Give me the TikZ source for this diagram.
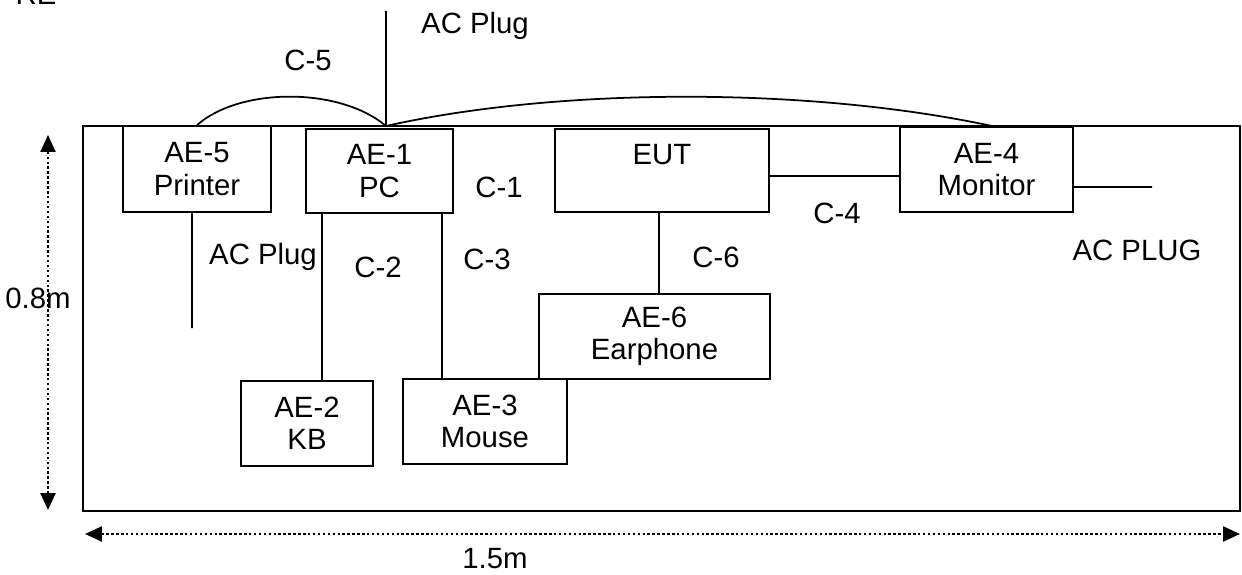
\documentclass[tikz,border=0pt]{standalone}
\usepackage{fontspec}
\setmainfont{Liberation Sans}
\usetikzlibrary{arrows.meta}

\begin{document}
\begin{tikzpicture}[
        x=0.02cm, y=-0.02cm,
        unit/.style={
            rectangle,
            draw=black,
            line width=1pt,
            inner sep=0pt,
            align=center,
            font=\fontsize{16.7}{18.5}\selectfont
        },
        lbl/.style={
            inner sep=0pt,
            font=\fontsize{16.7}{18.5}\selectfont
        },
        cable/.style={line width=1pt},
        dim/.style={
            {Triangle[length=0.34cm,width=0.3cm]}-{Triangle[length=0.34cm,width=0.3cm]},
            dash pattern=on 1.4pt off 1.4pt,
            line width=1.4pt
        }
    ]

    \useasboundingbox (0,0) rectangle (1242,575);

    \node (table) [draw, line width=1pt, inner sep=0pt, minimum width=23.14cm, minimum height=7.7cm] at (661.5,318.5) {};

    \node (printer) [unit, minimum width=2.96cm, minimum height=1.72cm] at (197,169) {AE-5\\Printer};
    \node (pc) [unit, minimum width=2.94cm, minimum height=1.68cm] at (379.5,171) {AE-1\\PC};
    \node (eut) [unit, minimum width=4.28cm, minimum height=1.66cm] at (662,170.5) {EUT\\\phantom{EUT}};
    \node (monitor) [unit, minimum width=3.46cm, minimum height=1.70cm] at (986.5,169.5) {AE-4\\Monitor};
    \node (earphone) [unit, minimum width=4.62cm, minimum height=1.70cm] at (654.5,336.5) {AE-6\\Earphone};
    \node (kb) [unit, minimum width=2.64cm, minimum height=1.70cm] at (307,423.5) {AE-2\\KB};
    \node (mouse) [unit, minimum width=3.28cm, minimum height=1.70cm] at (485,421.5) {AE-3\\Mouse};

    \coordinate (hub) at (386,126);
    \coordinate (plugtop) at (386,11);
    \coordinate (printerplug) at (192,328);
    \coordinate (monitorplug) at (1152,187);
    \coordinate (kbjack) at ([xshift=-1.15cm]pc.south);
    \coordinate (mousejack) at ([xshift=1.25cm]pc.south);
    \coordinate (audiojack) at ([xshift=-0.06cm]eut.south);
    \coordinate (videojack) at ([yshift=-0.11cm]eut.east);
    \coordinate (monitorout) at ([yshift=-0.35cm]monitor.east);

    \draw [cable] (printer.north) .. controls (240,87) and (340,87) .. (hub);
    \draw [cable] (hub) .. controls (560,87) and (810,87) .. (992,126);
    \draw [cable] (hub) -- (plugtop);
    \draw [cable] ([xshift=-0.1cm]printer.south) -- (printerplug);
    \draw [cable] (kbjack) -- (kbjack |- kb.north);
    \draw [cable] (mousejack) -- (mousejack |- mouse.north);
    \draw [cable] (audiojack) -- (audiojack |- earphone.north);
    \draw [cable] (videojack) -- (videojack -| monitor.west);
    \draw [cable] (monitorout) -- (monitorplug);

    \node (re) [lbl] at (36,-6) {RE};
    \node (c5) [lbl] at (308,60) {C-5};
    \node (plugpc) [lbl] at (475,26) {AC Plug};
    \node (c1) [lbl] at (499,187) {C-1};
    \node (plugprinter) [lbl] at (263,257) {AC Plug};
    \node (c2) [lbl] at (378,267) {C-2};
    \node (c3) [lbl] at (487,259) {C-3};
    \node (c6) [lbl] at (716,257) {C-6};
    \node (c4) [lbl] at (837,213) {C-4};
    \node (plugmonitor) [lbl] at (1137,250) {AC PLUG};

    \coordinate (htop) at (48,135);
    \coordinate (hbot) at (48,510);
    \coordinate (wleft) at (85,534);
    \coordinate (wright) at (1240,534);
    \draw [dim] (hbot) -- (htop);
    \draw [dim] (wleft) -- (wright);
    \node (height) [lbl] at (38,298) {0.8m};
    \node (width) [lbl] at (495,559) {1.5m};

\end{tikzpicture}
\end{document}
